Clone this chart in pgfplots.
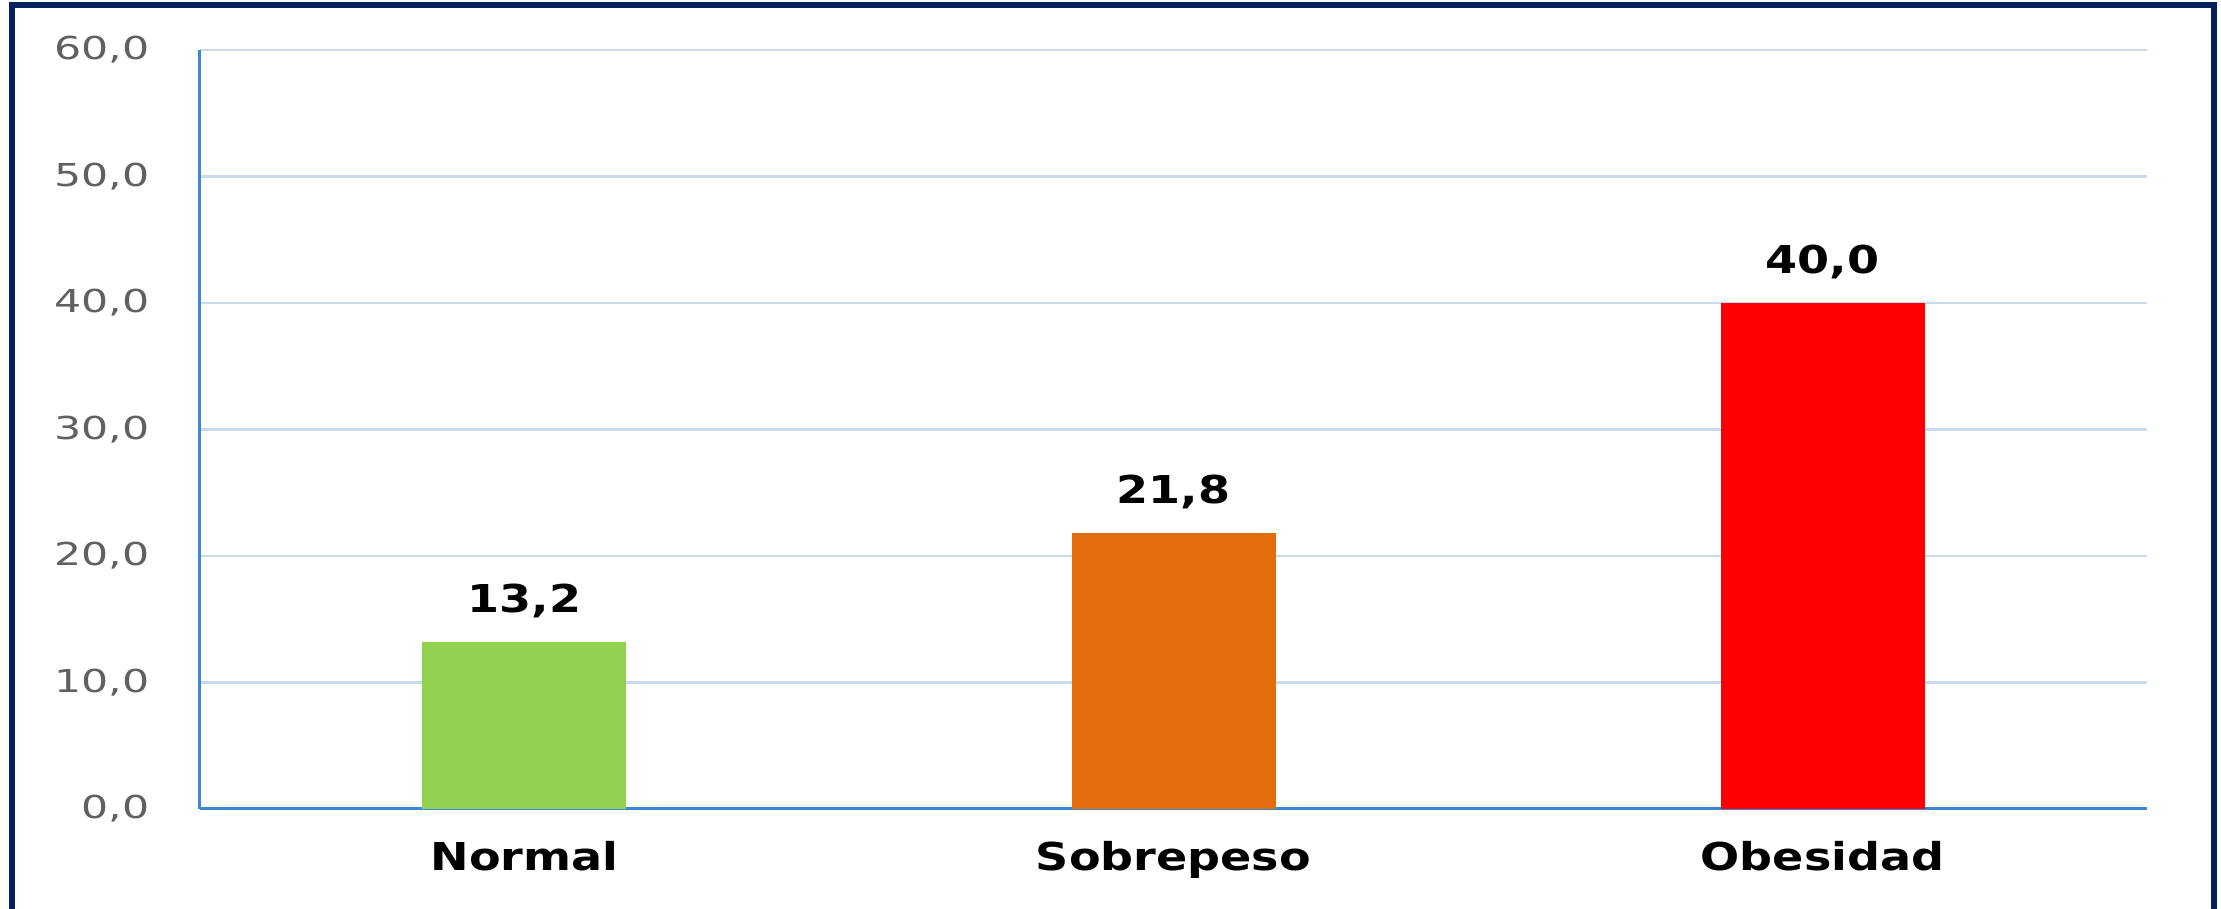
\documentclass[border=0pt]{standalone}
\usepackage{fontspec}
\setmainfont{DejaVu Sans}
\newfontfamily\tickfont[FakeStretch=1.35]{DejaVu Sans}
\newfontfamily\labfont[FakeStretch=1.2]{DejaVu Sans}
\usepackage{pgfplots}
\pgfplotsset{compat=1.18}
\definecolor{navy}{HTML}{002060}
\definecolor{axblue}{HTML}{3A87D4}
\definecolor{gridc}{HTML}{C9D9EE}
\definecolor{cgreen}{HTML}{92D050}
\definecolor{corange}{HTML}{E36C0A}
\definecolor{cred}{HTML}{FF0000}
\definecolor{tickgray}{HTML}{606060}
\pgfplotsset{/pgf/number format/.cd, use comma, fixed, fixed zerofill, precision=1, assume math mode=true}
\begin{document}
\begin{tikzpicture}[x=1pt,y=1pt]
\path[use as bounding box] (0,0) rectangle (555.25,227.25);
\draw[navy, line width=1.3pt, line join=miter] (3,-2) -- (3,226) -- (553.5,226) -- (553.5,-2);
\begin{axis}[
  at={(50pt,25pt)}, anchor=south west,
  scale only axis, width=486.75pt, height=189.75pt,
  xmin=-0.5, xmax=2.5, ymin=0, ymax=60,
  ytick={0,10,20,30,40,50,60},
  xtick={0,1,2}, xticklabels={Normal,Sobrepeso,Obesidad},
  axis lines*=left,
  axis line style={axblue, line width=0.75pt},
  major tick length=0pt,
  ymajorgrids, major grid style={gridc, line width=0.6pt},
  yticklabel style={font=\tickfont\fontsize{7.9}{9}\selectfont, text=tickgray, inner sep=0pt, xshift=-12.5pt},
  xticklabel style={font=\labfont\bfseries\fontsize{9.6}{11}\selectfont, anchor=base, inner sep=0pt, yshift=-15.5pt},
  bar width=51pt,
  nodes near coords,
  every node near coord/.append style={font=\labfont\bfseries\fontsize{9.6}{11}\selectfont, anchor=base, inner sep=0pt, yshift=7.5pt, text=black},
]
\addplot[ybar, bar shift=0pt, fill=cgreen, draw=none] coordinates {(0,13.2)};
\addplot[ybar, bar shift=0pt, fill=corange, draw=none] coordinates {(1,21.8)};
\addplot[ybar, bar shift=0pt, fill=cred, draw=none] coordinates {(2,40.0)};
\end{axis}
\end{tikzpicture}
\end{document}
